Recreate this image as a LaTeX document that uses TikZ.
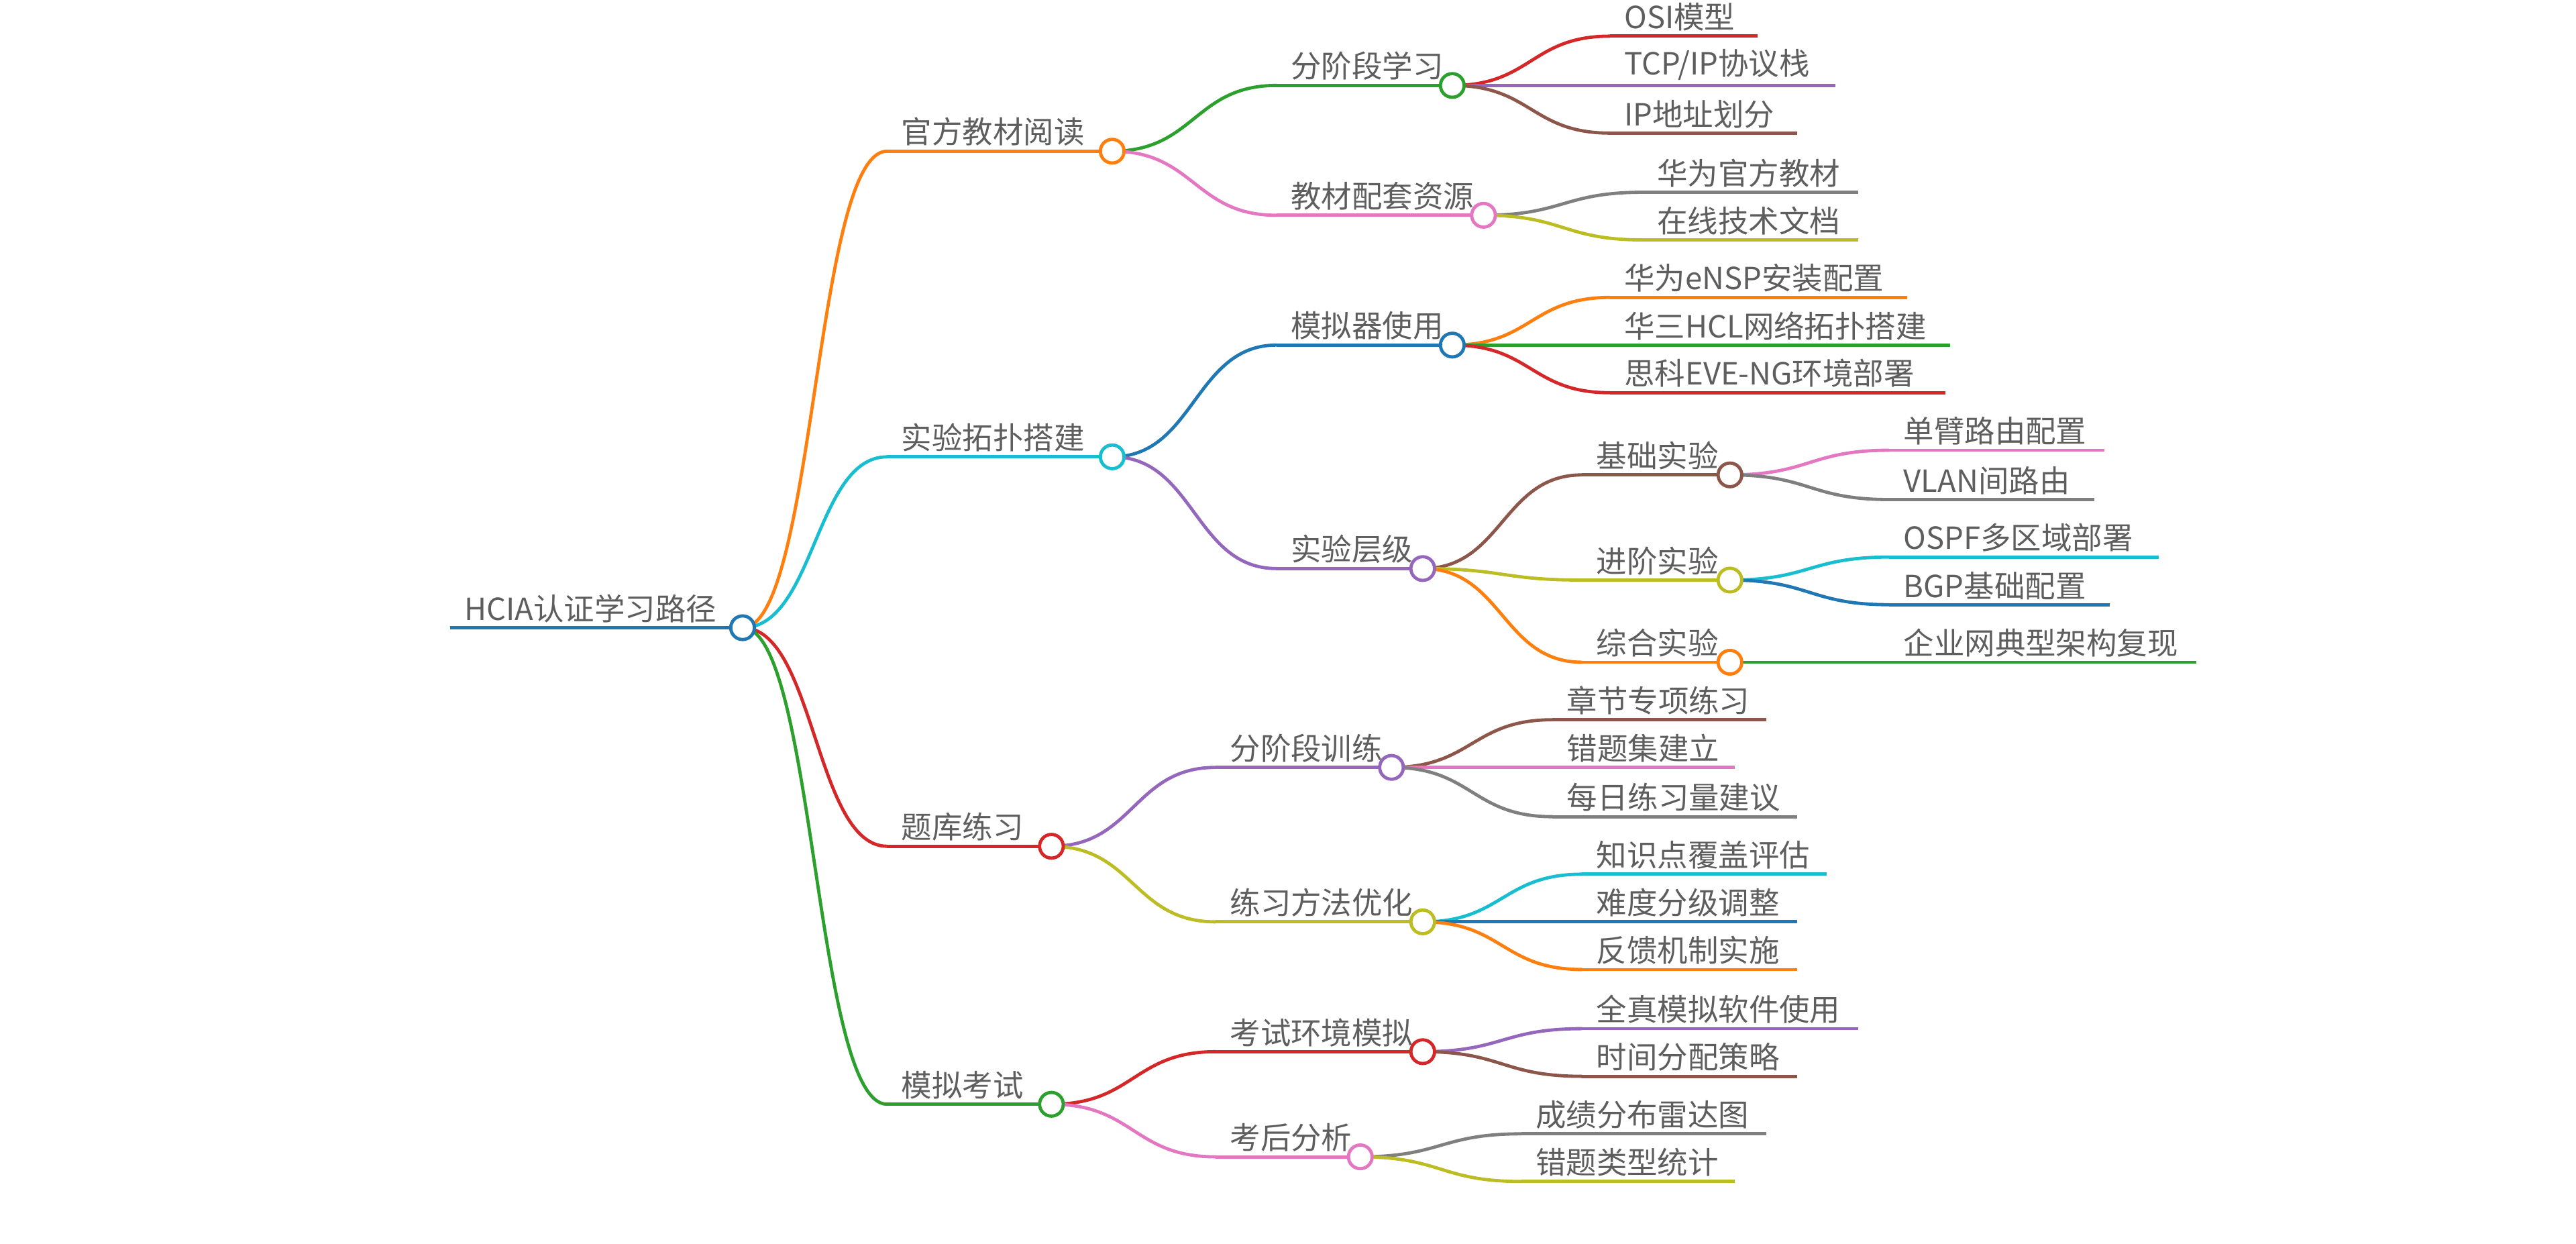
\documentclass[tikz,border=0pt]{standalone}
\usepackage{fontspec}
\setmainfont{Noto Sans CJK SC}
\usetikzlibrary{positioning, calc}
\definecolor{cOrange}{HTML}{FF7F0E}
\definecolor{cCyan}{HTML}{17BECF}
\definecolor{cRed}{HTML}{D62728}
\definecolor{cGreen}{HTML}{2CA02C}
\definecolor{cPurple}{HTML}{9467BD}
\definecolor{cPink}{HTML}{E377C2}
\definecolor{cBrown}{HTML}{8C564B}
\definecolor{cGray}{HTML}{7F7F7F}
\definecolor{cOlive}{HTML}{BCBD22}
\definecolor{cBlue}{HTML}{1F77B4}
\definecolor{txt}{HTML}{5E5E5E}

% topic: name, x start, x end, y, colour, text
\newcommand{\topic}[6]{%
\coordinate (#1-s) at (#2,#4);
\coordinate (#1-e) at (#3,#4);
\draw[#5, line width=1.4pt] (#1-s) -- (#1-e);
\node[label, above right=1pt and 5pt of #1-s] (#1-t) {#6};
}
\newcommand{\knot}[2]{%
\node[knotnode, draw=#2] (#1) at (#1-e) {};
}
\newcommand{\link}[3]{%
\coordinate (mid) at ($(#1.east)!0.5!(#2-s)$);
\draw[#3, line width=1.4pt] (#1.east) .. controls (#1.east -| mid) and (#2-s -| mid) .. (#2-s);
}

\begin{document}
\begin{tikzpicture}[
x=0.025cm, y=-0.025cm,
label/.style={inner sep=1pt, text=txt, font=\fontsize{13.2}{15}\selectfont},
knotnode/.style={circle, fill=white, line width=1.4pt, minimum size=0.36cm, inner sep=0pt},
]
\useasboundingbox (0,0) rectangle (1568,757);

% root and main branches
\topic{root}{274}{452}{382}{cBlue}{HCIA认证学习路径}
\topic{book}{540}{677}{92}{cOrange}{官方教材阅读}
\topic{lab}{540}{677}{278}{cCyan}{实验拓扑搭建}
\topic{bank}{540}{640}{515}{cRed}{题库练习}
\topic{exam}{540}{640}{672}{cGreen}{模拟考试}

% second level
\topic{stage}{777}{884}{52}{cGreen}{分阶段学习}
\topic{res}{777}{903}{131}{cPink}{教材配套资源}
\topic{sim}{777}{884}{210}{cBlue}{模拟器使用}
\topic{level}{777}{866}{346}{cPurple}{实验层级}
\topic{train}{740}{847}{467}{cPurple}{分阶段训练}
\topic{method}{740}{866}{561}{cOlive}{练习方法优化}
\topic{env}{740}{866}{640}{cRed}{考试环境模拟}
\topic{post}{740}{828}{704}{cPink}{考后分析}

% third level
\topic{osi}{980}{1070}{22}{cRed}{OSI模型}
\topic{tcp}{980}{1117}{52}{cPurple}{TCP/IP协议栈}
\topic{ip}{980}{1094}{81}{cBrown}{IP地址划分}
\topic{hw}{1000}{1131}{117}{cGray}{华为官方教材}
\topic{doc}{1000}{1131}{146}{cOlive}{在线技术文档}
\topic{ensp}{980}{1161}{181}{cOrange}{华为eNSP安装配置}
\topic{hcl}{980}{1187}{210}{cGreen}{华三HCL网络拓扑搭建}
\topic{eve}{980}{1184}{239}{cRed}{思科EVE-NG环境部署}
\topic{basic}{963}{1053}{289}{cBrown}{基础实验}
\topic{adv}{963}{1053}{353}{cOlive}{进阶实验}
\topic{comb}{963}{1053}{403}{cOrange}{综合实验}
\topic{chap}{945}{1075}{438}{cBrown}{章节专项练习}
\topic{wrong}{945}{1056}{467}{cPink}{错题集建立}
\topic{daily}{945}{1094}{497}{cGray}{每日练习量建议}
\topic{cover}{963}{1112}{532}{cCyan}{知识点覆盖评估}
\topic{diff}{963}{1094}{561}{cBlue}{难度分级调整}
\topic{feed}{963}{1094}{590}{cOrange}{反馈机制实施}
\topic{full}{963}{1131}{626}{cPurple}{全真模拟软件使用}
\topic{time}{963}{1094}{655}{cBrown}{时间分配策略}
\topic{score}{926}{1075}{690}{cGray}{成绩分布雷达图}
\topic{type}{926}{1056}{719}{cOlive}{错题类型统计}

% fourth level
\topic{arm}{1150}{1281}{274}{cPink}{单臂路由配置}
\topic{vlan}{1150}{1275}{304}{cGray}{VLAN间路由}
\topic{ospf}{1150}{1314}{339}{cCyan}{OSPF多区域部署}
\topic{bgp}{1150}{1284}{368}{cBlue}{BGP基础配置}
\topic{ent}{1150}{1337}{403}{cGreen}{企业网典型架构复现}

% connectors
\link{root-e}{book}{cOrange}
\link{root-e}{lab}{cCyan}
\link{root-e}{bank}{cRed}
\link{root-e}{exam}{cGreen}
\link{book-e}{stage}{cGreen}
\link{book-e}{res}{cPink}
\link{lab-e}{sim}{cBlue}
\link{lab-e}{level}{cPurple}
\link{bank-e}{train}{cPurple}
\link{bank-e}{method}{cOlive}
\link{exam-e}{env}{cRed}
\link{exam-e}{post}{cPink}
\link{stage-e}{osi}{cRed}
\link{stage-e}{tcp}{cPurple}
\link{stage-e}{ip}{cBrown}
\link{res-e}{hw}{cGray}
\link{res-e}{doc}{cOlive}
\link{sim-e}{ensp}{cOrange}
\link{sim-e}{hcl}{cGreen}
\link{sim-e}{eve}{cRed}
\link{level-e}{basic}{cBrown}
\link{level-e}{adv}{cOlive}
\link{level-e}{comb}{cOrange}
\link{basic-e}{arm}{cPink}
\link{basic-e}{vlan}{cGray}
\link{adv-e}{ospf}{cCyan}
\link{adv-e}{bgp}{cBlue}
\link{comb-e}{ent}{cGreen}
\link{train-e}{chap}{cBrown}
\link{train-e}{wrong}{cPink}
\link{train-e}{daily}{cGray}
\link{method-e}{cover}{cCyan}
\link{method-e}{diff}{cBlue}
\link{method-e}{feed}{cOrange}
\link{env-e}{full}{cPurple}
\link{env-e}{time}{cBrown}
\link{post-e}{score}{cGray}
\link{post-e}{type}{cOlive}

% circles on top
\knot{root}{cBlue}
\knot{book}{cOrange}
\knot{lab}{cCyan}
\knot{bank}{cRed}
\knot{exam}{cGreen}
\knot{stage}{cGreen}
\knot{res}{cPink}
\knot{sim}{cBlue}
\knot{level}{cPurple}
\knot{train}{cPurple}
\knot{method}{cOlive}
\knot{env}{cRed}
\knot{post}{cPink}
\knot{basic}{cBrown}
\knot{adv}{cOlive}
\knot{comb}{cOrange}
\end{tikzpicture}
\end{document}
